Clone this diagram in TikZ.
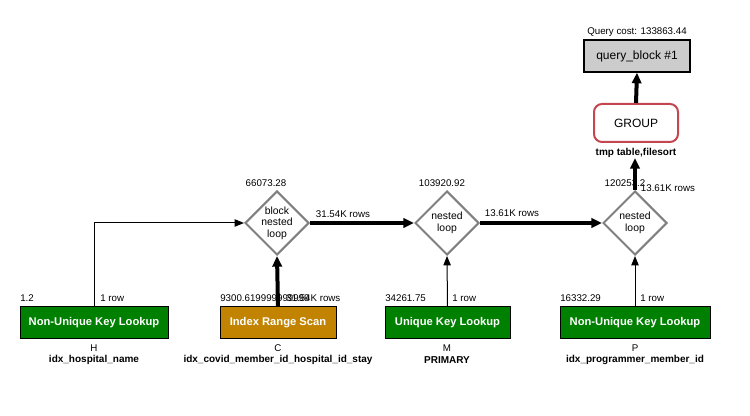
\documentclass[tikz,border=0pt]{standalone}
\usepackage{fontspec}
\setmainfont{Liberation Sans}
\usetikzlibrary{shapes.geometric,arrows.meta}
\definecolor{opgreen}{RGB}{0,128,0}
\definecolor{opgold}{RGB}{194,132,0}
\definecolor{grpred}{RGB}{196,70,78}
\definecolor{qbgray}{RGB}{204,204,204}
\definecolor{diagray}{RGB}{128,128,128}
\begin{document}
\begin{tikzpicture}[x=0.75pt,y=-0.75pt,
  opbox/.style={draw=black, line width=0.75pt, text=white, font=\bfseries\fontsize{8.4}{10}\selectfont, minimum height=24pt, inner sep=0pt},
  dia/.style={diamond, aspect=1, draw=diagray, line width=1.5pt, minimum width=48pt, minimum height=48pt, inner sep=0pt},
  diatext/.style={font=\fontsize{7.8}{8.6}\selectfont, align=center, inner sep=0pt},
  lbl/.style={font=\fontsize{7.3}{8}\selectfont, inner sep=0pt},
  blbl/.style={font=\bfseries\fontsize{7.5}{8}\selectfont, inner sep=0pt},
  thinarrow/.style={-{Triangle[length=7pt,width=5.5pt]}, line width=0.75pt},
  thickarrow/.style={-{Triangle[length=8pt,width=7pt]}, line width=3pt}]
\useasboundingbox (0,0) rectangle (750,416);

% top
\node[lbl] (qc) at (637,32) {Query cost: 133863.44};
\node[draw=black, line width=1pt, fill=qbgray, minimum width=79.5pt, minimum height=24pt, inner sep=0pt, font=\fontsize{9}{10}\selectfont] (qb) at (637,56) {query\_block \#1};
\node[draw=grpred, line width=1.5pt, rounded corners=6pt, minimum width=63pt, minimum height=28.5pt, inner sep=0pt, font=\fontsize{9}{10}\selectfont] (grp) at (636,123) {GROUP};
\node[blbl] (grpl) at (636,153) {tmp table,filesort};
\coordinate (grptip) at (635,158);

% diamonds
\node[dia] (d1) at (277,223) {};
\node[diatext] (d1t) at (277,223) {block\\nested\\loop};
\node[dia] (d2) at (447,223) {};
\node[diatext] (d2t) at (447,223) {nested\\loop};
\node[dia] (d3) at (635,223) {};
\node[diatext] (d3t) at (635,223) {nested\\loop};
\node[lbl] (d1c) at (266,183) {66073.28};
\node[lbl] (d2c) at (442,183) {103920.92};
\node[lbl] (d3c) at (625,183) {120253.2};

% bottom boxes
\node[opbox, fill=opgreen, minimum width=111pt] (H) at (94,323) {Non-Unique Key Lookup};
\node[opbox, fill=opgold, minimum width=87pt] (C) at (278,323) {Index Range Scan};
\node[opbox, fill=opgreen, minimum width=93.75pt] (M) at (447.5,323) {Unique Key Lookup};
\node[opbox, fill=opgreen, minimum width=112.5pt] (P) at (635,323) {Non-Unique Key Lookup};

\node[lbl, anchor=west] (Hc) at (20,298) {1.2};
\node[lbl, anchor=west] (Hr) at (100,298) {1 row};
\node[lbl, anchor=west] (Cc) at (220,298) {9300.619999999999};
\node[lbl, anchor=west] (Cr) at (286,298) {31.54K rows};
\node[lbl, anchor=west] (Mc) at (385,298) {34261.75};
\node[lbl, anchor=west] (Mr) at (452,298) {1 row};
\node[lbl, anchor=west] (Pc) at (560,298) {16332.29};
\node[lbl, anchor=west] (Pr) at (640,298) {1 row};

\node[lbl] (Hl) at (94,348) {H};
\node[blbl] (Hn) at (94,360) {idx\_hospital\_name};
\node[lbl] (Cl) at (278,348) {C};
\node[blbl] (Cn) at (278,360) {idx\_covid\_member\_id\_hospital\_id\_stay};
\node[lbl] (Ml) at (447,348) {M};
\node[blbl] (Mn) at (447,360) {PRIMARY};
\node[lbl] (Pl) at (635,348) {P};
\node[blbl] (Pn) at (635,360) {idx\_programmer\_member\_id};

% connectors
\draw[thinarrow] (H.north) |- (d1.west);
\draw[thickarrow] (C.north) -- (d1.south);
\draw[thickarrow] (d1.east) -- (d2.west);
\node[lbl] (e1) at (343,214) {31.54K rows};
\draw[thinarrow] (M.north) -- (d2.south);
\draw[thickarrow] (d2.east) -- (d3.west);
\node[lbl] (e2) at (512,213) {13.61K rows};
\draw[thinarrow] (P.north) -- (d3.south);
\draw[thickarrow] (d3.north) -- (grptip);
\node[lbl] (e3) at (668,188) {13.61K rows};
\draw[thickarrow] (grp.north) -- (qb.south);
\end{tikzpicture}
\end{document}
